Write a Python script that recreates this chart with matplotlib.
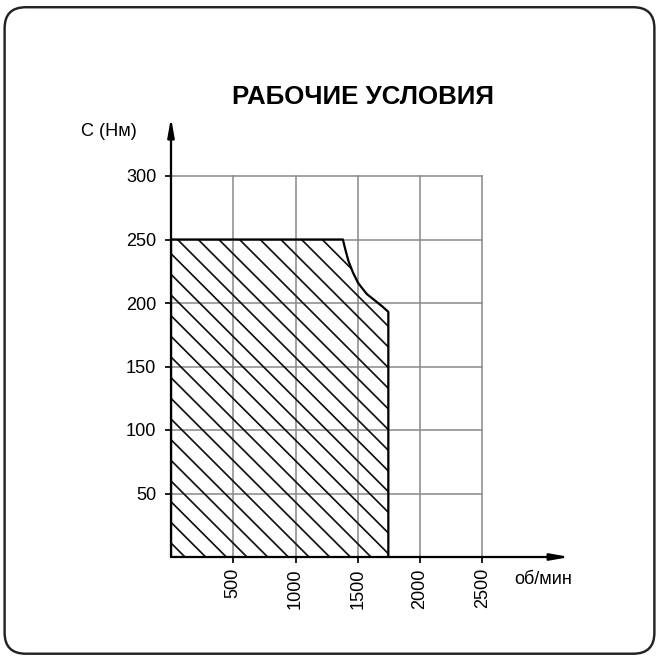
import matplotlib.pyplot as plt
from matplotlib.patches import FancyBboxPatch

# operating area outline (rpm, torque)
rpm = [0, 0, 1380, 1400, 1425, 1461, 1501, 1540, 1573, 1637, 1700, 1745, 1745]
torque = [0, 250, 250, 242, 233, 224, 216, 211, 207, 202, 197, 193, 0]

x_ticks = [500, 1000, 1500, 2000, 2500]
y_ticks = [50, 100, 150, 200, 250, 300]

font = ['Liberation Sans Narrow', 'Liberation Sans', 'DejaVu Sans']
plt.rcParams['font.family'] = font
plt.rcParams['hatch.linewidth'] = 1.0

DPI = 124
fig = plt.figure(figsize=(659 / DPI, 657 / DPI), dpi=DPI)

# rounded frame
fig.patches.append(FancyBboxPatch((0.007, 0.005), 0.986, 0.984,
                                  boxstyle="round,pad=0,rounding_size=0.032",
                                  transform=fig.transFigure, fill=False,
                                  lw=1.4, ec='#222222'))

ax = fig.add_axes([171 / 659, 100 / 657, 411 / 659, 444.5 / 657])
ax.set_xlim(0, 3300)
ax.set_ylim(0, 350)
for s in ax.spines.values():
    s.set_visible(False)

# grid
for xv in x_ticks:
    ax.plot([xv, xv], [0, max(y_ticks)], color='#8a8a8a', lw=0.9, zorder=1)
for yv in y_ticks:
    ax.plot([0, max(x_ticks)], [yv, yv], color='#8a8a8a', lw=0.9, zorder=1)

# hatched area
ax.fill(rpm, torque, facecolor='none', edgecolor='#111111', hatch='\\\\',
        lw=0, zorder=2)
ax.plot(rpm, torque, color='black', lw=1.3, zorder=3)

# axes arrows
ax.annotate('', xy=(3200, 0), xytext=(0, 0),
            arrowprops=dict(arrowstyle='-|>,head_length=0.9,head_width=0.16',
                            color='black', lw=1.3, shrinkA=0, shrinkB=0), zorder=4)
ax.annotate('', xy=(0, 346), xytext=(0, 0),
            arrowprops=dict(arrowstyle='-|>,head_length=0.9,head_width=0.16',
                            color='black', lw=1.3, shrinkA=0, shrinkB=0), zorder=4)

ax.set_xticks(x_ticks)
ax.set_yticks(y_ticks)
ax.set_xticklabels([str(v) for v in x_ticks], rotation=90, fontsize=10.5)
ax.set_yticklabels([str(v) for v in y_ticks], fontsize=10.5)
ax.tick_params(axis='x', length=3.5, width=1, pad=3, colors='black')
ax.tick_params(axis='y', length=3.5, width=1, pad=5, colors='black')

fig.text(363 / 659, 1 - 97 / 657, 'РАБОЧИЕ УСЛОВИЯ', ha='center', va='center',
         fontsize=15, fontweight='bold')
fig.text(137 / 659, 1 - 132 / 657, 'С (Нм)', ha='right', va='center', fontsize=10.5)
fig.text(514 / 659, 1 - 580 / 657, 'об/мин', ha='left', va='center', fontsize=10.5)

fig.savefig('out.png', dpi=DPI)
